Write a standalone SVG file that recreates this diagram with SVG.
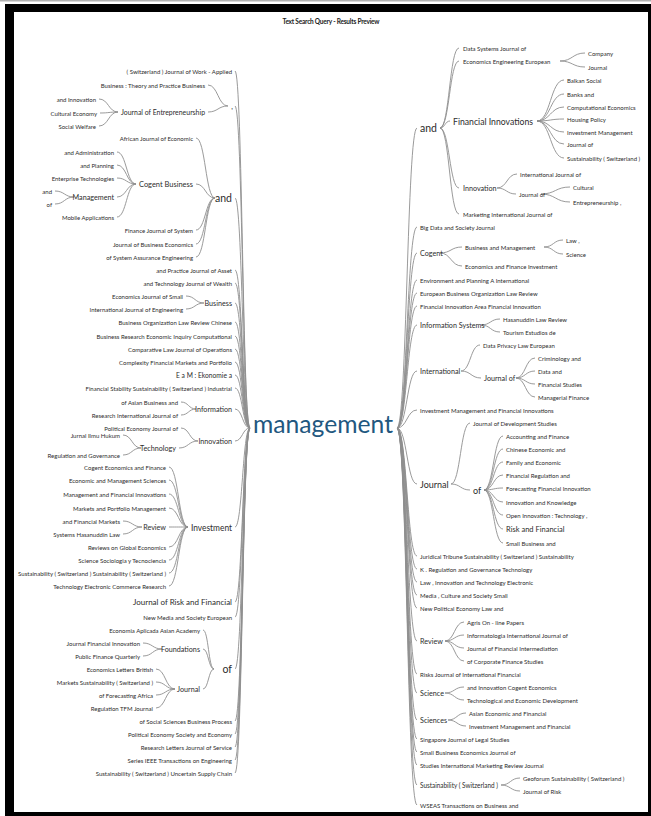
<svg xmlns="http://www.w3.org/2000/svg" width="651" height="816" viewBox="0 0 651 816">
<style>
.t{font-family:Lato,"Open Sans","Liberation Sans",sans-serif;fill:#2c2c2c;dominant-baseline:central}
.e{text-anchor:end}
.s{font-size:6px}
.m{font-size:7.2px}
.l{font-size:9px}
.x{font-size:10.5px}
.c path{fill:none;stroke:#8e8e8e;stroke-width:0.9}
.title{font-family:Lato,"Liberation Sans",sans-serif;font-weight:bold;font-size:6.5px;fill:#222;text-anchor:middle}
.root{font-family:Lato,"Open Sans",sans-serif;font-size:25px;fill:#22577f}
</style>
<rect x="0" y="0" width="651" height="816" fill="#fff"/>
<rect x="0" y="0" width="651" height="1.5" fill="#b0b0b0"/>
<rect x="5" y="4" width="646" height="812" fill="#000"/>
<rect x="14" y="12" width="634" height="800" fill="#fff"/>
<text class="title" x="331" y="24" textLength="97">Text Search Query - Results Preview</text>

<g id="connectors" class="c">
<path d="M235 71C242.5 71 242.5 428 250 428"/>
<path d="M235 106C242.5 106 242.5 428 250 428"/>
<path d="M235 198C242.5 198 242.5 428 250 428"/>
<path d="M235 270C242.5 270 242.5 428 250 428"/>
<path d="M235 283C242.5 283 242.5 428 250 428"/>
<path d="M235 303C242.5 303 242.5 428 250 428"/>
<path d="M235 322C242.5 322 242.5 428 250 428"/>
<path d="M235 336C242.5 336 242.5 428 250 428"/>
<path d="M235 349C242.5 349 242.5 428 250 428"/>
<path d="M235 362C242.5 362 242.5 428 250 428"/>
<path d="M235 375C242.5 375 242.5 428 250 428"/>
<path d="M235 388C242.5 388 242.5 428 250 428"/>
<path d="M235 409C242.5 409 242.5 428 250 428"/>
<path d="M235 441C242.5 441 242.5 428 250 428"/>
<path d="M235 527C242.5 527 242.5 428 250 428"/>
<path d="M235 602C242.5 602 242.5 428 250 428"/>
<path d="M235 617C242.5 617 242.5 428 250 428"/>
<path d="M235 669C242.5 669 242.5 428 250 428"/>
<path d="M235 721C242.5 721 242.5 428 250 428"/>
<path d="M235 734C242.5 734 242.5 428 250 428"/>
<path d="M235 747C242.5 747 242.5 428 250 428"/>
<path d="M235 760C242.5 760 242.5 428 250 428"/>
<path d="M235 773C242.5 773 242.5 428 250 428"/>
<path d="M99 99C108.5 99 108.5 112 118 112"/>
<path d="M100 113C109 113 109 112 118 112"/>
<path d="M99 126C108.5 126 108.5 112 118 112"/>
<path d="M208 85C218 85 218 106 228 106"/>
<path d="M208 112C218 112 218 106 228 106"/>
<path d="M117 152C126.5 152 126.5 184 136 184"/>
<path d="M117 165C126.5 165 126.5 184 136 184"/>
<path d="M117 178C126.5 178 126.5 184 136 184"/>
<path d="M117 197C126.5 197 126.5 184 136 184"/>
<path d="M117 217C126.5 217 126.5 184 136 184"/>
<path d="M55 191C64.5 191 64.5 197 74 197"/>
<path d="M55 204C64.5 204 64.5 197 74 197"/>
<path d="M196 138C205.5 138 205.5 198 215 198"/>
<path d="M196 184C205.5 184 205.5 198 215 198"/>
<path d="M196 230C205.5 230 205.5 198 215 198"/>
<path d="M196 244C205.5 244 205.5 198 215 198"/>
<path d="M196 257C205.5 257 205.5 198 215 198"/>
<path d="M186 296C195 296 195 303 204 303"/>
<path d="M186 309C195 309 195 303 204 303"/>
<path d="M181 402C188.5 402 188.5 409 196 409"/>
<path d="M181 415C188.5 415 188.5 409 196 409"/>
<path d="M181 428C189.5 428 189.5 441 198 441"/>
<path d="M179 448C188.5 448 188.5 441 198 441"/>
<path d="M123 435C132 435 132 448 141 448"/>
<path d="M123 455C132 455 132 448 141 448"/>
<path d="M169 467C178.5 467 178.5 527 188 527"/>
<path d="M169 480C178.5 480 178.5 527 188 527"/>
<path d="M169 494C178.5 494 178.5 527 188 527"/>
<path d="M169 508C178.5 508 178.5 527 188 527"/>
<path d="M169 527C178.5 527 178.5 527 188 527"/>
<path d="M169 547C178.5 547 178.5 527 188 527"/>
<path d="M169 560C178.5 560 178.5 527 188 527"/>
<path d="M169 573C178.5 573 178.5 527 188 527"/>
<path d="M169 586C178.5 586 178.5 527 188 527"/>
<path d="M123 521C132.5 521 132.5 527 142 527"/>
<path d="M123 534C132.5 534 132.5 527 142 527"/>
<path d="M203 630C208.5 630 208.5 669 214 669"/>
<path d="M203 649C208.5 649 208.5 669 214 669"/>
<path d="M203 689C208.5 689 208.5 669 214 669"/>
<path d="M143 643C152.5 643 152.5 649 162 649"/>
<path d="M143 656C152.5 656 152.5 649 162 649"/>
<path d="M156 669C165.5 669 165.5 689 175 689"/>
<path d="M156 682C165.5 682 165.5 689 175 689"/>
<path d="M156 695C165.5 695 165.5 689 175 689"/>
<path d="M156 708C165.5 708 165.5 689 175 689"/>
<path d="M397 428C407 428 407 128 417 128"/>
<path d="M397 428C407 428 407 227 417 227"/>
<path d="M397 428C407 428 407 253 417 253"/>
<path d="M397 428C407 428 407 280 417 280"/>
<path d="M397 428C407 428 407 293 417 293"/>
<path d="M397 428C407 428 407 306 417 306"/>
<path d="M397 428C407 428 407 325 417 325"/>
<path d="M397 428C407 428 407 371 417 371"/>
<path d="M397 428C407 428 407 410 417 410"/>
<path d="M397 428C407 428 407 484 417 484"/>
<path d="M397 428C407 428 407 556 417 556"/>
<path d="M397 428C407 428 407 569 417 569"/>
<path d="M397 428C407 428 407 582 417 582"/>
<path d="M397 428C407 428 407 595 417 595"/>
<path d="M397 428C407 428 407 608 417 608"/>
<path d="M397 428C407 428 407 641 417 641"/>
<path d="M397 428C407 428 407 674 417 674"/>
<path d="M397 428C407 428 407 693 417 693"/>
<path d="M397 428C407 428 407 720 417 720"/>
<path d="M397 428C407 428 407 739 417 739"/>
<path d="M397 428C407 428 407 752 417 752"/>
<path d="M397 428C407 428 407 765 417 765"/>
<path d="M397 428C407 428 407 785 417 785"/>
<path d="M397 428C407 428 407 805 417 805"/>
<path d="M440 128C449.5 128 449.5 48 459 48"/>
<path d="M440 128C449.5 128 449.5 61 459 61"/>
<path d="M440 128C445 128 445 121 450 121"/>
<path d="M440 128C449.5 128 449.5 188 459 188"/>
<path d="M440 128C449.5 128 449.5 214 459 214"/>
<path d="M560 61C572.5 61 572.5 53 585 53"/>
<path d="M560 61C572.5 61 572.5 67 585 67"/>
<path d="M537 121C550.5 121 550.5 80 564 80"/>
<path d="M537 121C550.5 121 550.5 94 564 94"/>
<path d="M537 121C550.5 121 550.5 107 564 107"/>
<path d="M537 121C550.5 121 550.5 119 564 119"/>
<path d="M537 121C550.5 121 550.5 132 564 132"/>
<path d="M537 121C550.5 121 550.5 144 564 144"/>
<path d="M537 121C550.5 121 550.5 158 564 158"/>
<path d="M497 188C507 188 507 174 517 174"/>
<path d="M497 188C506.5 188 506.5 194 516 194"/>
<path d="M541 194C555.5 194 555.5 187 570 187"/>
<path d="M541 194C555.5 194 555.5 202 570 202"/>
<path d="M440 253C451 253 451 247 462 247"/>
<path d="M440 253C451 253 451 266 462 266"/>
<path d="M544 247C553.5 247 553.5 240 563 240"/>
<path d="M544 247C553.5 247 553.5 254 563 254"/>
<path d="M481 325C490.5 325 490.5 319 500 319"/>
<path d="M481 325C490.5 325 490.5 332 500 332"/>
<path d="M461 371C470.5 371 470.5 345 480 345"/>
<path d="M461 371C471 371 471 378 481 378"/>
<path d="M516 378C525.5 378 525.5 358 535 358"/>
<path d="M516 378C525.5 378 525.5 371 535 371"/>
<path d="M516 378C525.5 378 525.5 384 535 384"/>
<path d="M516 378C525.5 378 525.5 397 535 397"/>
<path d="M451 484C460.5 484 460.5 423 470 423"/>
<path d="M451 484C460.5 484 460.5 490 470 490"/>
<path d="M484 490C493.5 490 493.5 436 503 436"/>
<path d="M484 490C493.5 490 493.5 449 503 449"/>
<path d="M484 490C493.5 490 493.5 462 503 462"/>
<path d="M484 490C493.5 490 493.5 475 503 475"/>
<path d="M484 490C493.5 490 493.5 488 503 488"/>
<path d="M484 490C493.5 490 493.5 502 503 502"/>
<path d="M484 490C493.5 490 493.5 515 503 515"/>
<path d="M484 490C493.5 490 493.5 529 503 529"/>
<path d="M484 490C493.5 490 493.5 543 503 543"/>
<path d="M445 641C454.5 641 454.5 622 464 622"/>
<path d="M445 641C454.5 641 454.5 635 464 635"/>
<path d="M445 641C454.5 641 454.5 648 464 648"/>
<path d="M445 641C454.5 641 454.5 661 464 661"/>
<path d="M445 693C454.5 693 454.5 687 464 687"/>
<path d="M445 693C454.5 693 454.5 700 464 700"/>
<path d="M448 720C457 720 457 713 466 713"/>
<path d="M448 720C457 720 457 726 466 726"/>
<path d="M501 785C510.5 785 510.5 778 520 778"/>
<path d="M501 785C510.5 785 510.5 791 520 791"/>
</g>

<g id="n-root"><text class="root" x="253" y="433" textLength="140" lengthAdjust="spacingAndGlyphs">management</text></g>

<g id="n-l-switz"><text class="t e s" x="232" y="71">( Switzerland ) Journal of Work - Applied</text></g>
<g id="n-l-comma"><text class="t e m" x="233" y="106">,</text></g>
<g id="n-l-btpb"><text class="t e s" x="205" y="85">Business : Theory and Practice Business</text></g>
<g id="n-l-joe"><text class="t e" style="font-size:7.6px" x="205" y="112" textLength="84" lengthAdjust="spacingAndGlyphs">Journal of Entrepreneurship</text></g>
<g id="n-l-andinnov"><text class="t e s" x="96" y="99">and Innovation</text></g>
<g id="n-l-cultural"><text class="t e s" x="97" y="113">Cultural Economy</text></g>
<g id="n-l-social"><text class="t e s" x="96" y="126">Social Welfare</text></g>
<g id="n-l-and"><text class="t e x" x="232" y="198">and</text></g>
<g id="n-l-african"><text class="t e s" x="193" y="138">African Journal of Economic</text></g>
<g id="n-l-cogentbus"><text class="t e" style="font-size:7.8px" x="193" y="184" textLength="54" lengthAdjust="spacingAndGlyphs">Cogent Business</text></g>
<g id="n-l-andadmin"><text class="t e s" x="114" y="152">and Administration</text></g>
<g id="n-l-andplan"><text class="t e s" x="114" y="165">and Planning</text></g>
<g id="n-l-enterprise"><text class="t e s" x="114" y="178">Enterprise Technologies</text></g>
<g id="n-l-mgmt"><text class="t e m" x="114" y="197">Management</text></g>
<g id="n-l-mand"><text class="t e s" x="52" y="191">and</text></g>
<g id="n-l-mof"><text class="t e s" x="52" y="204">of</text></g>
<g id="n-l-mobile"><text class="t e s" x="114" y="217">Mobile Applications</text></g>
<g id="n-l-finjs"><text class="t e s" x="193" y="230">Finance Journal of System</text></g>
<g id="n-l-jbe"><text class="t e s" x="193" y="244">Journal of Business Economics</text></g>
<g id="n-l-sae"><text class="t e s" x="193" y="257">of System Assurance Engineering</text></g>
<g id="n-l-asset"><text class="t e s" x="232" y="270">and Practice Journal of Asset</text></g>
<g id="n-l-wealth"><text class="t e s" x="232" y="283">and Technology Journal of Wealth</text></g>
<g id="n-l-business"><text class="t e m" x="232" y="303">Business</text></g>
<g id="n-l-ejs"><text class="t e s" x="183" y="296">Economics Journal of Small</text></g>
<g id="n-l-ije"><text class="t e s" x="183" y="309">International Journal of Engineering</text></g>
<g id="n-l-bolr"><text class="t e s" x="232" y="322">Business Organization Law Review Chinese</text></g>
<g id="n-l-brei"><text class="t e s" x="232" y="336">Business Research Economic Inquiry Computational</text></g>
<g id="n-l-clj"><text class="t e s" x="232" y="349">Comparative Law Journal of Operations</text></g>
<g id="n-l-cfm"><text class="t e s" x="232" y="362">Complexity Financial Markets and Portfolio</text></g>
<g id="n-l-eam"><text class="t e" style="font-size:6.7px" x="232" y="375">E a M : Ekonomie a</text></g>
<g id="n-l-fss"><text class="t e s" x="232" y="388">Financial Stability Sustainability ( Switzerland ) Industrial</text></g>
<g id="n-l-info"><text class="t e m" x="232" y="409">Information</text></g>
<g id="n-l-asian"><text class="t e s" x="178" y="402">of Asian Business and</text></g>
<g id="n-l-rij"><text class="t e s" x="178" y="415">Research International Journal of</text></g>
<g id="n-l-innov"><text class="t e m" x="232" y="441">Innovation</text></g>
<g id="n-l-pej"><text class="t e s" x="178" y="428">Political Economy Journal of</text></g>
<g id="n-l-tech"><text class="t e m" x="176" y="448">Technology</text></g>
<g id="n-l-jurnal"><text class="t e s" x="120" y="435">Jurnal Ilmu Hukum</text></g>
<g id="n-l-regov"><text class="t e s" x="120" y="455">Regulation and Governance</text></g>
<g id="n-l-invest"><text class="t e l" x="232" y="527" textLength="41" lengthAdjust="spacingAndGlyphs">Investment</text></g>
<g id="n-l-cef"><text class="t e s" x="166" y="467">Cogent Economics and Finance</text></g>
<g id="n-l-ems"><text class="t e s" x="166" y="480">Economic and Management Sciences</text></g>
<g id="n-l-mfi"><text class="t e s" x="166" y="494">Management and Financial Innovations</text></g>
<g id="n-l-mpm"><text class="t e s" x="166" y="508">Markets and Portfolio Management</text></g>
<g id="n-l-review"><text class="t e m" x="166" y="527">Review</text></g>
<g id="n-l-afm"><text class="t e s" x="120" y="521">and Financial Markets</text></g>
<g id="n-l-shl"><text class="t e s" x="120" y="534">Systems Hasanuddin Law</text></g>
<g id="n-l-rge"><text class="t e s" x="166" y="547">Reviews on Global Economics</text></g>
<g id="n-l-ssyt"><text class="t e s" x="166" y="560">Science Sociologia y Tecnociencia</text></g>
<g id="n-l-sss"><text class="t e s" x="166" y="573">Sustainability ( Switzerland ) Sustainability ( Switzerland )</text></g>
<g id="n-l-tecr"><text class="t e s" x="166" y="586">Technology Electronic Commerce Research</text></g>
<g id="n-l-jorf"><text class="t e" style="font-size:8.4px" x="232" y="602" textLength="99" lengthAdjust="spacingAndGlyphs">Journal of Risk and Financial</text></g>
<g id="n-l-nms"><text class="t e s" x="232" y="617">New Media and Society European</text></g>
<g id="n-l-of"><text class="t e x" x="232" y="669">of</text></g>
<g id="n-l-eaaa"><text class="t e s" x="200" y="630">Economia Aplicada Asian Academy</text></g>
<g id="n-l-found"><text class="t e m" x="200" y="649">Foundations</text></g>
<g id="n-l-jfi"><text class="t e s" x="140" y="643">Journal Financial Innovation</text></g>
<g id="n-l-pfq"><text class="t e s" x="140" y="656">Public Finance Quarterly</text></g>
<g id="n-l-journal"><text class="t e m" x="200" y="689">Journal</text></g>
<g id="n-l-elb"><text class="t e s" x="153" y="669">Economics Letters British</text></g>
<g id="n-l-mss"><text class="t e s" x="153" y="682">Markets Sustainability ( Switzerland )</text></g>
<g id="n-l-ofa"><text class="t e s" x="153" y="695">of Forecasting Africa</text></g>
<g id="n-l-rtj"><text class="t e s" x="153" y="708">Regulation TFM Journal</text></g>
<g id="n-l-ossbp"><text class="t e s" x="232" y="721">of Social Sciences Business Process</text></g>
<g id="n-l-pese"><text class="t e s" x="232" y="734">Political Economy Society and Economy</text></g>
<g id="n-l-rljs"><text class="t e s" x="232" y="747">Research Letters Journal of Service</text></g>
<g id="n-l-sieee"><text class="t e s" x="232" y="760">Series IEEE Transactions on Engineering</text></g>
<g id="n-l-suscs"><text class="t e s" x="232" y="773">Sustainability ( Switzerland ) Uncertain Supply Chain</text></g>

<g id="n-r-and"><text class="t x" x="420" y="128">and</text></g>
<g id="n-r-dsj"><text class="t s" x="463" y="48">Data Systems Journal of</text></g>
<g id="n-r-eee"><text class="t s" x="463" y="61">Economics Engineering European</text></g>
<g id="n-r-company"><text class="t s" x="588" y="53">Company</text></g>
<g id="n-r-journal1"><text class="t s" x="588" y="67">Journal</text></g>
<g id="n-r-fi"><text class="t" style="font-size:9.4px" x="453" y="121" textLength="80" lengthAdjust="spacingAndGlyphs">Financial Innovations</text></g>
<g id="n-r-balkan"><text class="t s" x="567" y="80">Balkan Social</text></g>
<g id="n-r-banks"><text class="t s" x="567" y="94">Banks and</text></g>
<g id="n-r-compecon"><text class="t s" x="567" y="107">Computational Economics</text></g>
<g id="n-r-housing"><text class="t s" x="567" y="119">Housing Policy</text></g>
<g id="n-r-invmgmt"><text class="t s" x="567" y="132">Investment Management</text></g>
<g id="n-r-jof1"><text class="t s" x="567" y="144">Journal of</text></g>
<g id="n-r-sustsw1"><text class="t s" x="567" y="158">Sustainability ( Switzerland )</text></g>
<g id="n-r-innov"><text class="t m" x="463" y="188">Innovation</text></g>
<g id="n-r-ijo"><text class="t s" x="520" y="174">International Journal of</text></g>
<g id="n-r-jof2"><text class="t s" x="519" y="194">Journal of</text></g>
<g id="n-r-cultural"><text class="t s" x="573" y="187">Cultural</text></g>
<g id="n-r-entre"><text class="t s" x="573" y="202">Entrepreneurship ,</text></g>
<g id="n-r-marketing"><text class="t s" x="463" y="214">Marketing International Journal of</text></g>
<g id="n-r-bigdata"><text class="t s" x="420" y="227">Big Data and Society Journal</text></g>
<g id="n-r-cogent"><text class="t m" x="420" y="253">Cogent</text></g>
<g id="n-r-bam"><text class="t s" x="465" y="247">Business and Management</text></g>
<g id="n-r-law"><text class="t s" x="566" y="240">Law ,</text></g>
<g id="n-r-science1"><text class="t s" x="566" y="254">Science</text></g>
<g id="n-r-efi"><text class="t s" x="465" y="266">Economics and Finance Investment</text></g>
<g id="n-r-env"><text class="t s" x="420" y="280">Environment and Planning A International</text></g>
<g id="n-r-ebolr"><text class="t s" x="420" y="293">European Business Organization Law Review</text></g>
<g id="n-r-fiafi"><text class="t s" x="420" y="306">Financial Innovation Area Financial Innovation</text></g>
<g id="n-r-infosys"><text class="t m" x="420" y="325">Information Systems</text></g>
<g id="n-r-hlr"><text class="t s" x="503" y="319">Hasanuddin Law Review</text></g>
<g id="n-r-ted"><text class="t s" x="503" y="332">Tourism Estudios de</text></g>
<g id="n-r-intl"><text class="t m" x="420" y="371">International</text></g>
<g id="n-r-dple"><text class="t s" x="483" y="345">Data Privacy Law European</text></g>
<g id="n-r-jof3"><text class="t m" x="484" y="378">Journal of</text></g>
<g id="n-r-crim"><text class="t s" x="538" y="358">Criminology and</text></g>
<g id="n-r-data"><text class="t s" x="538" y="371">Data and</text></g>
<g id="n-r-finst"><text class="t s" x="538" y="384">Financial Studies</text></g>
<g id="n-r-manfin"><text class="t s" x="538" y="397">Managerial Finance</text></g>
<g id="n-r-imfi"><text class="t s" x="420" y="410">Investment Management and Financial Innovations</text></g>
<g id="n-r-journal"><text class="t" style="font-size:9px" x="420" y="484">Journal</text></g>
<g id="n-r-jds"><text class="t s" x="473" y="423">Journal of Development Studies</text></g>
<g id="n-r-of"><text class="t" style="font-size:9px" x="473" y="490">of</text></g>
<g id="n-r-acc"><text class="t s" x="506" y="436">Accounting and Finance</text></g>
<g id="n-r-chinese"><text class="t s" x="506" y="449">Chinese Economic and</text></g>
<g id="n-r-family"><text class="t s" x="506" y="462">Family and Economic</text></g>
<g id="n-r-finreg"><text class="t s" x="506" y="475">Financial Regulation and</text></g>
<g id="n-r-forecast"><text class="t s" x="506" y="488">Forecasting Financial Innovation</text></g>
<g id="n-r-innknow"><text class="t s" x="506" y="502">Innovation and Knowledge</text></g>
<g id="n-r-openinn"><text class="t s" x="506" y="515">Open Innovation : Technology ,</text></g>
<g id="n-r-risk"><text class="t" style="font-size:7.5px" x="506" y="529">Risk and Financial</text></g>
<g id="n-r-smallbus"><text class="t s" x="506" y="543">Small Business and</text></g>
<g id="n-r-juridical"><text class="t s" x="420" y="556">Juridical Tribune Sustainability ( Switzerland ) Sustainability</text></g>
<g id="n-r-kreg"><text class="t s" x="420" y="569">K . Regulation and Governance Technology</text></g>
<g id="n-r-lawinn"><text class="t s" x="420" y="582">Law , Innovation and Technology Electronic</text></g>
<g id="n-r-media"><text class="t s" x="420" y="595">Media , Culture and Society Small</text></g>
<g id="n-r-npe"><text class="t s" x="420" y="608">New Political Economy Law and</text></g>
<g id="n-r-review"><text class="t m" x="420" y="641">Review</text></g>
<g id="n-r-agris"><text class="t s" x="467" y="622">Agris On - line Papers</text></g>
<g id="n-r-informat"><text class="t s" x="467" y="635">Informatologia International Journal of</text></g>
<g id="n-r-jfint"><text class="t s" x="467" y="648">Journal of Financial Intermediation</text></g>
<g id="n-r-ocfs"><text class="t s" x="467" y="661">of Corporate Finance Studies</text></g>
<g id="n-r-risks"><text class="t s" x="420" y="674">Risks Journal of International Financial</text></g>
<g id="n-r-science"><text class="t m" x="420" y="693">Science</text></g>
<g id="n-r-aice"><text class="t s" x="467" y="687">and Innovation Cogent Economics</text></g>
<g id="n-r-taed"><text class="t s" x="467" y="700">Technological and Economic Development</text></g>
<g id="n-r-sciences"><text class="t m" x="420" y="720">Sciences</text></g>
<g id="n-r-aeaf"><text class="t s" x="469" y="713">Asian Economic and Financial</text></g>
<g id="n-r-imaf"><text class="t s" x="469" y="726">Investment Management and Financial</text></g>
<g id="n-r-singapore"><text class="t s" x="420" y="739">Singapore Journal of Legal Studies</text></g>
<g id="n-r-sbej"><text class="t s" x="420" y="752">Small Business Economics Journal of</text></g>
<g id="n-r-simrj"><text class="t s" x="420" y="765">Studies International Marketing Review Journal</text></g>
<g id="n-r-sustsw"><text class="t" style="font-size:7.6px" x="420" y="785" textLength="78" lengthAdjust="spacingAndGlyphs">Sustainability ( Switzerland )</text></g>
<g id="n-r-geoforum"><text class="t s" x="523" y="778">Geoforum Sustainability ( Switzerland )</text></g>
<g id="n-r-jrisk"><text class="t s" x="523" y="791">Journal of Risk</text></g>
<g id="n-r-wseas"><text class="t s" x="420" y="805">WSEAS Transactions on Business and</text></g>
</svg>
